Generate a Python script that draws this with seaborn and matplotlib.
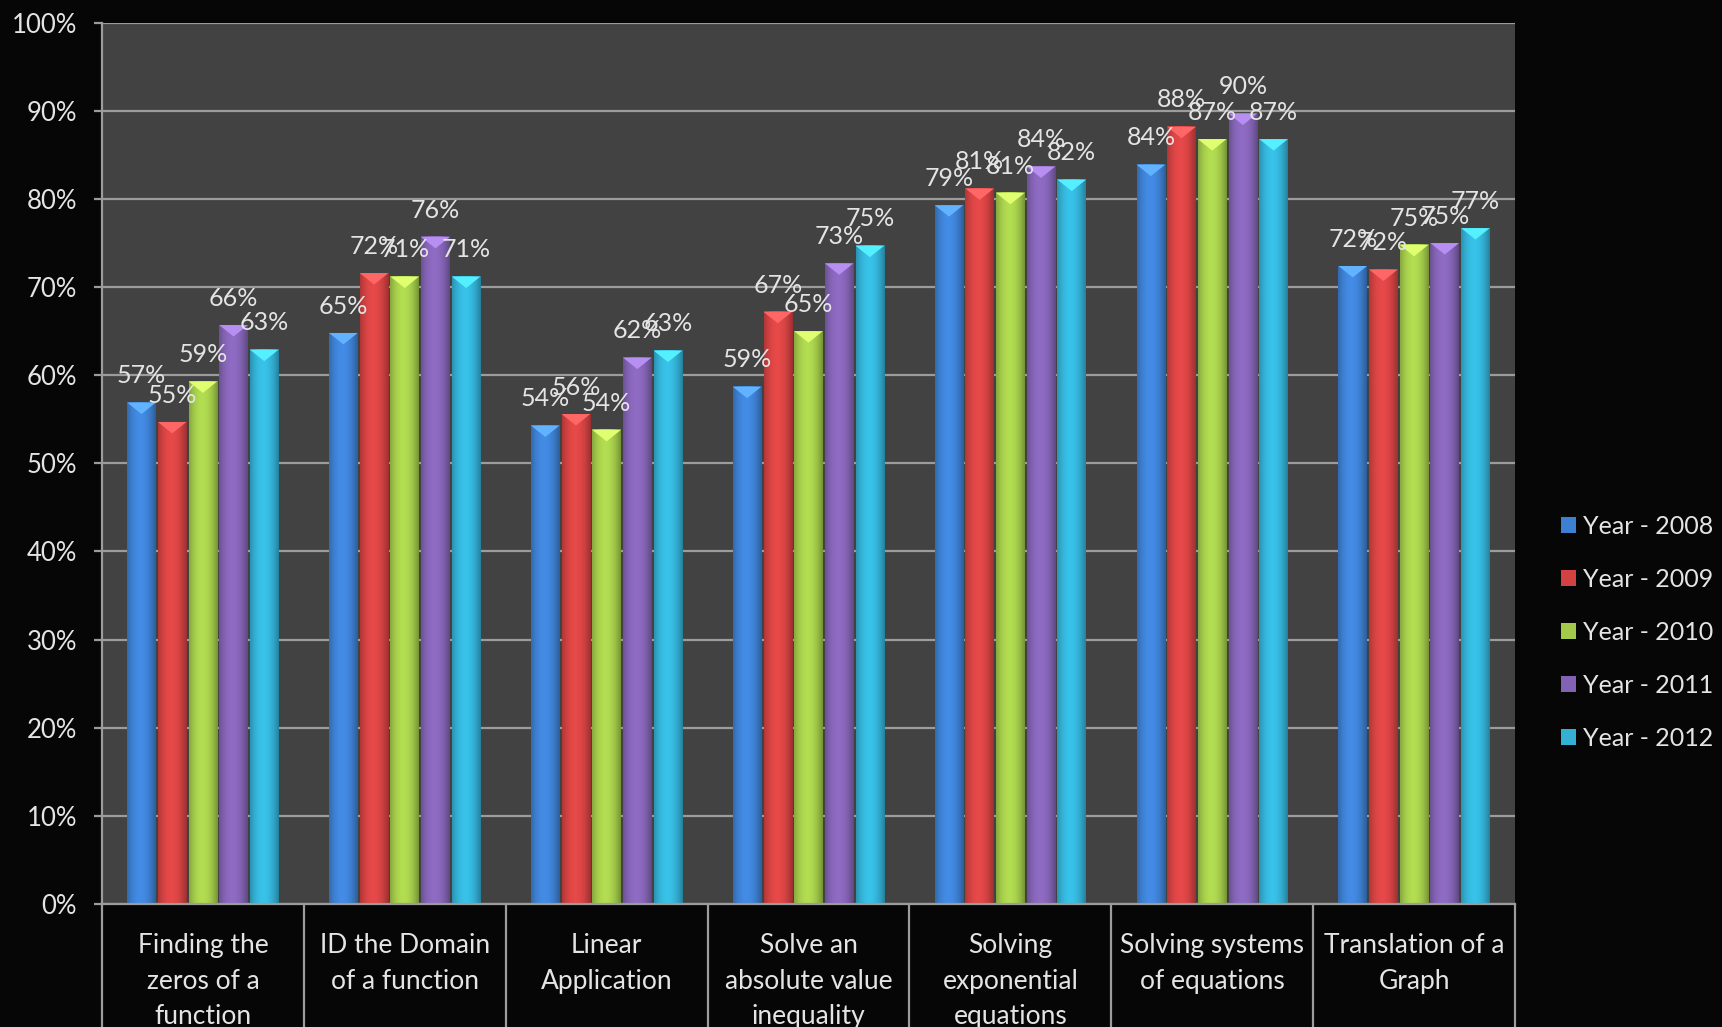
import numpy as np
import pandas as pd
import matplotlib
matplotlib.use("Agg")
import matplotlib.pyplot as plt
import seaborn as sns
from matplotlib.colors import to_rgba
from matplotlib.patches import Polygon, Patch

categories = ["Finding the\nzeros of a\nfunction", "ID the Domain\nof a function", "Linear\nApplication",
              "Solve an\nabsolute value\ninequality", "Solving\nexponential\nequations",
              "Solving systems\nof equations", "Translation of a\nGraph"]
years = ["Year - 2008", "Year - 2009", "Year - 2010", "Year - 2011", "Year - 2012"]
y2008 = [0.569, 0.648, 0.543, 0.587, 0.793, 0.839, 0.724]
y2009 = [0.547, 0.716, 0.556, 0.672, 0.812, 0.882, 0.720]
y2010 = [0.593, 0.712, 0.538, 0.650, 0.807, 0.868, 0.748]
y2011 = [0.657, 0.757, 0.620, 0.727, 0.837, 0.897, 0.750]
y2012 = [0.629, 0.712, 0.628, 0.747, 0.822, 0.868, 0.767]
colors = ["#3d7fd0", "#d24242", "#a2c94a", "#8262b2", "#33b0d4"]
yticks = [0.0, 0.1, 0.2, 0.3, 0.4, 0.5, 0.6, 0.7, 0.8, 0.9, 1.0]

series = [y2008, y2009, y2010, y2011, y2012]
df = pd.DataFrame({
    "category": [c for s in series for c in categories],
    "year": [y for y, s in zip(years, series) for _ in s],
    "value": [v for s in series for v in s],
})

sns.set_style("dark")
plt.rcParams["font.family"] = ["Lato", "DejaVu Sans"]
txt = "#e4e4e4"
gridc = "#9c9c9c"

fig = plt.figure(figsize=(17.22, 10.27), dpi=100, facecolor="#060606")
ax = fig.add_axes([0.0592, 0.1198, 0.8206, 0.858])
ax.set_facecolor("#424242")

sns.barplot(data=df, x="category", y="value", hue="year", order=categories,
            hue_order=years, palette=colors, width=0.76, gap=0.07,
            linewidth=0, saturation=1, ax=ax, legend=True)

# 3D-like shading on each bar
t = np.linspace(-1, 1, 64)
shade = np.clip(0.78 + 0.32 * (1 - t ** 2) + 0.05 * (-t), 0, 1.15)
for cont in ax.containers:
    for p in cont.patches:
        x0, w, h = p.get_x(), p.get_width(), p.get_height()
        rgba = np.array(to_rgba(p.get_facecolor()))
        img = np.zeros((1, len(t), 4))
        img[0, :, :3] = np.clip(rgba[:3][None, :] * shade[:, None], 0, 1)
        img[0, :, 3] = 1
        ax.imshow(img, extent=[x0, x0 + w, 0, h], aspect="auto", zorder=2.5,
                  interpolation="bicubic")
        light = np.clip(rgba[:3] * 1.25 + 0.08, 0, 1)
        ax.add_patch(Polygon([[x0, h], [x0 + w, h], [x0 + w / 2, h - 0.013]],
                             closed=True, facecolor=light, edgecolor="none", zorder=2.6))
    ax.bar_label(cont, labels=[f"{round(v * 100):.0f}%" for v in cont.datavalues],
                 padding=11, color=txt, fontsize=18, zorder=3)

ax.set_xlim(-0.5, len(categories) - 0.5)
ax.set_ylim(0, 1)
ax.set_yticks(yticks)
ax.set_yticklabels([f"{int(round(v * 100))}%" for v in yticks])
ax.yaxis.grid(True, color=gridc, lw=1.6)
ax.xaxis.grid(False)
ax.set_axisbelow(True)
ax.set_xlabel("")
ax.set_ylabel("")

ax.tick_params(axis="y", colors=gridc, labelcolor=txt, labelsize=18.5, length=6, width=1.6, pad=12, left=True)
ax.set_xticks(range(len(categories)))
ax.set_xticklabels(categories, linespacing=1.52)
ax.tick_params(axis="x", which="major", length=0, pad=21, labelsize=19, labelcolor=txt)
ax.set_xticks(np.arange(-0.5, len(categories), 1.0), minor=True)
ax.tick_params(axis="x", which="minor", length=100, width=1.6, color=gridc, bottom=True)

for s in ["top", "right"]:
    ax.spines[s].set_visible(False)
for s in ["left", "bottom"]:
    ax.spines[s].set_color(gridc)
    ax.spines[s].set_linewidth(1.6)

if ax.get_legend() is not None:
    ax.get_legend().remove()
handles = [Patch(facecolor=c, edgecolor="none") for c in colors]
fig.legend(handles, years, loc="center left", bbox_to_anchor=(0.8937, 0.384),
           frameon=False, fontsize=18, labelcolor=txt, handlelength=0.6,
           handleheight=0.6, handletextpad=0.25, labelspacing=1.2)

fig.savefig("out.png", dpi=100, facecolor=fig.get_facecolor())
